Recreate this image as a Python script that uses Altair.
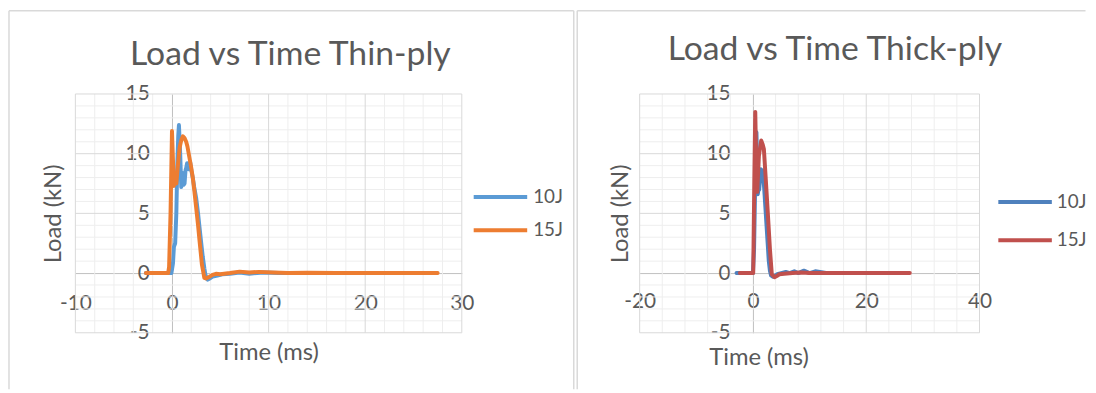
import altair as alt
import pandas as pd

FONT = "Lato"
TXT = "#595959"
series = ["10J", "15J"]

# ---- Thin-ply (left) ----
thin_10_t = [-2.7, -0.06, 0.1, 0.2, 0.33, 0.45, 0.55, 0.65, 0.72, 0.85, 0.96, 1.05, 1.13, 1.22, 1.3, 1.4,
             1.47, 1.56, 1.64, 1.75, 1.88, 2.0, 2.15, 2.3, 2.5, 2.7, 2.84, 3.0, 3.18, 3.35, 3.46, 3.6, 3.7,
             3.9, 4.2, 4.7, 5.2, 6.0, 7.0, 8.0, 9.5, 11.0, 13.0, 16.0, 20.0, 24.0, 27.4]
thin_10_y = [0, 0, 0.8, 2.2, 2.5, 5.0, 9.1, 11.5, 12.4, 10.0, 7.2, 8.4, 8.3, 7.4, 7.5, 8.6,
             8.8, 9.2, 9.1, 8.7, 9.3, 8.6, 8.0, 7.2, 6.3, 5.0, 3.9, 2.7, 1.4, 0.4, -0.14, -0.45, -0.55,
             -0.45, -0.3, -0.2, -0.1, -0.05, 0.05, -0.05, 0.05, 0.0, 0.0, 0.0, 0.0, 0.0, 0.0]
thin_15_t = [-2.7, -0.4, -0.3, -0.15, 0.0, 0.1, 0.2, 0.28, 0.34, 0.45, 0.62, 0.79, 0.95, 1.13, 1.3, 1.47,
             1.6, 1.8, 2.0, 2.15, 2.3, 2.5, 2.7, 2.84, 3.0, 3.1, 3.2, 3.35, 3.5, 3.87, 4.2, 4.55, 5.0, 6.0,
             7.0, 8.0, 9.0, 10.5, 12.0, 14.0, 17.0, 21.0, 25.0, 27.5]
thin_15_y = [0, 0, 0.5, 5.0, 11.9, 9.5, 7.3, 8.4, 7.7, 7.5, 9.1, 10.5, 11.1, 11.46, 11.3, 11.0,
             10.6, 9.7, 8.8, 8.0, 7.0, 5.5, 4.0, 2.8, 1.5, 0.7, 0.27, -0.41, -0.45, -0.3, -0.15, -0.06, -0.1, 0.0,
             0.12, 0.05, 0.1, 0.05, 0.0, 0.03, 0.0, 0.0, 0.0, 0.0]

# ---- Thick-ply (right) ----
thick_10_t = [-2.9, 0.0, 0.2, 0.45, 0.62, 0.75, 0.85, 0.95, 1.1, 1.25, 1.4, 1.55, 1.7, 1.85, 2.0, 2.2,
              2.4, 2.6, 2.8, 3.0, 3.2, 3.5, 3.8, 4.3, 5.0, 5.8, 6.5, 7.3, 8.0, 9.0, 10.0, 11.0, 12.9,
              15.0, 20.0, 25.0, 27.0]
thick_10_y = [0, 0, 2.0, 9.0, 11.8, 9.0, 6.6, 6.9, 7.0, 7.8, 8.7, 8.5, 8.6, 8.0, 7.0, 5.5,
              4.0, 2.5, 1.0, 0.2, -0.2, -0.3, -0.25, -0.1, 0.0, 0.1, 0.0, 0.15, 0.0, 0.2, 0.0, 0.15, 0.0,
              0.0, 0.0, 0.0, 0.0]
thick_15_t = [-2.3, 0.05, 0.25, 0.41, 0.55, 0.76, 1.05, 1.46, 1.7, 1.93, 2.3, 2.63, 3.0, 3.33, 3.8,
              4.2, 4.67, 5.5, 7.0, 8.5, 10.0, 12.0, 15.0, 20.0, 25.0, 27.7]
thick_15_y = [0, 0, 8.0, 13.5, 10.0, 6.8, 9.8, 11.1, 10.8, 10.4, 7.6, 5.0, 2.0, -0.1, -0.35,
              -0.25, -0.1, -0.05, 0.0, 0.05, 0.0, 0.0, 0.0, 0.0, 0.0, 0.0]

thin_x_major = [-10, 10, 20, 30]
thin_x_minor = [v for v in range(-10, 31, 2) if v % 10 != 0]
thin_x_ticks = [-10, 0, 10, 20, 30]
thick_x_major = [-20, 20, 40]
thick_x_minor = [v for v in range(-20, 41, 4) if v % 20 != 0]
thick_x_ticks = [-20, 0, 20, 40]
y_major = [-5, 5, 10, 15]
y_minor = [v for v in range(-5, 16) if v % 5 != 0]
y_ticks = [-5, 0, 5, 10, 15]

LEGEND_LINE = "M-3,0H3"  # wide horizontal stroke used as legend symbol


def long_df(t10, y10, t15, y15):
    return pd.DataFrame({
        "Time": list(t10) + list(t15),
        "Load": list(y10) + list(y15),
        "Series": [series[0]] * len(t10) + [series[1]] * len(t15),
    })


def panel(df, title, colors, xdom, xmaj, xmin, xticks, W, H, P):
    xs = alt.Scale(domain=xdom, nice=False, zero=False)
    ys = alt.Scale(domain=[-5, 15], nice=False, zero=False)
    one = pd.DataFrame({"a": [0]})

    x0 = W * (0 - xdom[0]) / (xdom[1] - xdom[0])
    y0 = H * 15 / 20

    xaxis = alt.Axis(values=xticks, offset=-(H - y0), domain=True, domainColor="#bfbfbf", domainWidth=1,
                     ticks=False, tickSize=0, grid=False, labelFlush=False, labelOverlap=False,
                     labelExpr="datum.value + ''",
                     labelPadding=P["xpad"], labelBaseline="middle", labelFontSize=21, labelFont=FONT,
                     labelColor=TXT, title="Time (ms)", titleFont=FONT, titleFontSize=24,
                     titleFontWeight="normal", titleColor=TXT, titleX=P["xtx"], titleY=P["xty"],
                     titleBaseline="middle", titleAlign="center")
    yaxis = alt.Axis(values=y_ticks, offset=-x0, domain=True, domainColor="#bfbfbf", domainWidth=1,
                     ticks=False, tickSize=0, grid=False, labelFlush=False, labelOverlap=False,
                     labelExpr="datum.value + ''",
                     labelPadding=23, labelFontSize=21, labelFont=FONT, labelColor=TXT,
                     title="Load (kN)", titleFont=FONT, titleFontSize=24, titleFontWeight="normal",
                     titleColor=TXT, titleX=P["ytx"] - x0, titleY=H / 2, titleBaseline="middle",
                     titleAlign="center", titleAngle=270)

    def vgrid(vals, color):
        return alt.Chart(pd.DataFrame({"Time": vals})).mark_rule(color=color, strokeWidth=1).encode(
            x=alt.X("Time:Q", scale=xs, axis=xaxis))

    def hgrid(vals, color):
        return alt.Chart(pd.DataFrame({"Load": vals})).mark_rule(color=color, strokeWidth=1).encode(
            y=alt.Y("Load:Q", scale=ys, axis=yaxis))

    lines = alt.Chart(df).mark_line(strokeWidth=4, strokeJoin="round", strokeCap="round").encode(
        x=alt.X("Time:Q", scale=xs, axis=xaxis),
        y=alt.Y("Load:Q", scale=ys, axis=yaxis),
        color=alt.Color("Series:N", scale=alt.Scale(domain=series, range=colors),
                        legend=alt.Legend(orient="none", legendX=P["lx"], legendY=P["ly"], title=None,
                                          symbolType=LEGEND_LINE, symbolSize=324, symbolStrokeWidth=4,
                                          symbolFillColor="transparent",
                                          labelFontSize=19, labelFont=FONT, labelColor=TXT,
                                          labelOffset=P["lo"], rowPadding=P["rp"], padding=0)),
    )

    ttl = alt.Chart(pd.DataFrame({"t": [title]})).mark_text(
        font=FONT, fontSize=34, color=TXT, align="center", baseline="alphabetic").encode(
        text="t:N", x=alt.value(P["tx"]), y=alt.value(P["ty"]))

    borders = [
        alt.Chart(one).mark_rule(color="#d9d9d9", strokeWidth=1.5).encode(
            x=alt.value(P["bl"]), y=alt.value(P["bt"]), y2=alt.value(P["bb"])),
        alt.Chart(one).mark_rule(color="#d9d9d9", strokeWidth=1.5).encode(
            x=alt.value(P["bl"]), x2=alt.value(P["br"]), y=alt.value(P["bt"])),
    ]
    if P.get("rightline"):
        borders.append(alt.Chart(one).mark_rule(color="#d9d9d9", strokeWidth=1.5).encode(
            x=alt.value(P["br"]), y=alt.value(P["bt"]), y2=alt.value(P["bb"])))

    layers = [vgrid(xmin, "#eeeeee"), hgrid(y_minor, "#eeeeee"),
              vgrid(xmaj, "#d9d9d9"), hgrid(y_major, "#d9d9d9"), lines, ttl] + borders
    return alt.layer(*layers).properties(width=W, height=H)


left = panel(long_df(thin_10_t, thin_10_y, thin_15_t, thin_15_y), "Load vs Time Thin-ply",
             ["#5B9BD5", "#ED7D31"], [-10, 30], thin_x_major, thin_x_minor, thin_x_ticks, 390, 241,
             dict(xpad=31, xtx=195, xty=80, ytx=-22, lx=418, ly=93, lo=22, rp=12.6,
                  tx=217, ty=-29, bl=-67, bt=-84, bb=298, br=503, rightline=True))
right = panel(long_df(thick_10_t, thick_10_y, thick_15_t, thick_15_y), "Load vs Time Thick-ply",
              ["#4F81BD", "#C0504D"], [-20, 40], thick_x_major, thick_x_minor, thick_x_ticks, 343, 241,
              dict(xpad=29, xtx=120, xty=85, ytx=-19, lx=378, ly=98, lo=21, rp=17.7,
                   tx=197, ty=-34, bl=-63, bt=-84, bb=298, br=450))

chart = alt.hconcat(left, right, spacing=1.5).resolve_scale(
    x="independent", y="independent", color="independent").properties(
    padding=0, background="white").configure_view(stroke=None)

chart.save("out.html", embed_options={"renderer": "svg", "actions": False})
